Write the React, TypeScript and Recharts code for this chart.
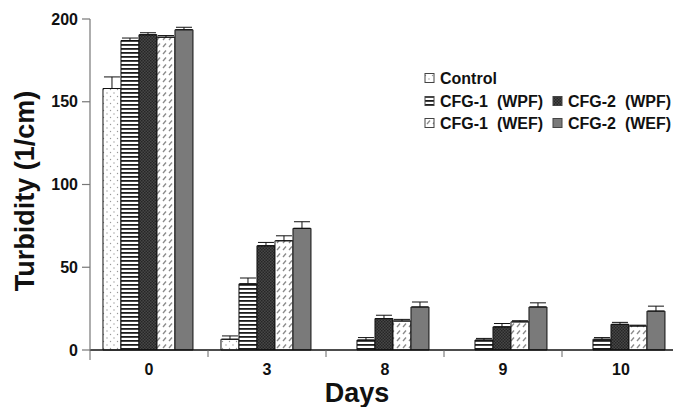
import React from 'react';
import { BarChart, Bar, XAxis, YAxis, ErrorBar } from 'recharts';

// ---------- data ----------
const days = ['0', '3', '8', '9', '10'];
const control = [158, 6.5, 0, 0, 0];
const controlErr = [7, 2, 0, 0, 0];
const cfg1Wpf = [187, 40, 6, 6, 6.5];
const cfg1WpfErr = [1.5, 3.5, 1.5, 1, 1];
const cfg2Wpf = [190.5, 63, 19, 14, 15.5];
const cfg2WpfErr = [1.2, 2, 2, 2, 1.2];
const cfg1Wef = [189, 66, 17.5, 17, 14.5];
const cfg1WefErr = [1, 3, 1, 0.7, 0.5];
const cfg2Wef = [193.5, 73.5, 26, 26, 23.5];
const cfg2WefErr = [1.5, 4, 3, 2.5, 3];
const seriesNames = ['Control', 'CFG-1  (WPF)', 'CFG-2  (WPF)', 'CFG-1  (WEF)', 'CFG-2  (WEF)'];
const yTicks = [0, 50, 100, 150, 200];

// ---------- layout ----------
const W = 700;
const H = 407;
const MARGIN = { top: 19, right: 20, bottom: 0, left: 0 };
const YAXIS_W = 90;
const XAXIS_H = 57;
const FONT = '"Liberation Sans", Arial, Helvetica, sans-serif';
const BAND = (W - MARGIN.left - MARGIN.right - YAXIS_W) / days.length;

const data = days.map((d, i) => ({
  day: d,
  s0: control[i], e0: [0, controlErr[i]],
  s1: cfg1Wpf[i], e1: [0, cfg1WpfErr[i]],
  s2: cfg2Wpf[i], e2: [0, cfg2WpfErr[i]],
  s3: cfg1Wef[i], e3: [0, cfg1WefErr[i]],
  s4: cfg2Wef[i], e4: [0, cfg2WefErr[i]],
}));

const fills = ['url(#pDots)', 'url(#pStripes)', 'url(#pDark)', 'url(#pSlash)', '#7a7a7a'];

// legend placement (layout only)
const legendPos = [
  { left: 425, top: 78 },
  { left: 425, top: 101 },
  { left: 553, top: 101 },
  { left: 425, top: 123 },
  { left: 553, top: 123 },
];

function XTick(props: any) {
  const { x, y, payload, index } = props;
  const bx = x - BAND / 2;
  return (
    <g>
      <line x1={bx} y1={y} x2={bx} y2={y + (index === 0 ? 10 : 7)} stroke="#666" strokeWidth={1} />
      <text x={x} y={y + 25} textAnchor="middle" fontFamily={FONT} fontWeight={700} fontSize={16} fill="#111">
        {payload.value}
      </text>
    </g>
  );
}

function Patterns() {
  return (
    <defs>
      <pattern id="pDots" width="7" height="7" patternUnits="userSpaceOnUse">
        <rect width="7" height="7" fill="#ffffff" />
        <circle cx="2" cy="2" r="0.7" fill="#9a9a9a" />
        <circle cx="5.5" cy="5.5" r="0.7" fill="#9a9a9a" />
      </pattern>
      <pattern id="pStripes" width="4" height="4" patternUnits="userSpaceOnUse">
        <rect width="4" height="4" fill="#ffffff" />
        <rect width="4" height="1.8" fill="#1c1c1c" />
      </pattern>
      <pattern id="pDark" width="3" height="3" patternUnits="userSpaceOnUse">
        <rect width="3" height="3" fill="#474747" />
        <rect width="1.5" height="1.5" fill="#262626" />
        <rect x="1.5" y="1.5" width="1.5" height="1.5" fill="#262626" />
      </pattern>
      <pattern id="pSlash" width="6" height="7" patternUnits="userSpaceOnUse">
        <rect width="6" height="7" fill="#ffffff" />
        <line x1="1" y1="5" x2="4" y2="1.5" stroke="#8a8a8a" strokeWidth="1.3" />
      </pattern>
    </defs>
  );
}

export default function App() {
  return (
    <div style={{ position: 'absolute', left: 0, top: 0, width: 673, height: 407, overflow: 'hidden', background: '#fff' }}>
      <BarChart
        width={W}
        height={H}
        data={data}
        margin={MARGIN}
        barCategoryGap="11%"
        barGap={0}
      >
        <Patterns />
        <XAxis
          dataKey="day"
          height={XAXIS_H}
          tickLine={false}
          tickSize={0}
          tickMargin={0}
          axisLine={{ stroke: '#111', strokeWidth: 1.6 }}
          tick={<XTick />}
          interval={0}
        />
        <YAxis
          width={YAXIS_W}
          domain={[0, 200]}
          ticks={yTicks}
          tickSize={8}
          tickMargin={4}
          axisLine={{ stroke: '#777', strokeWidth: 1.2 }}
          tickLine={{ stroke: '#777', strokeWidth: 1.2 }}
          tick={{ fontFamily: FONT, fontWeight: 700, fontSize: 16, fill: '#111' }}
        />
        {fills.map((f, i) => (
          <Bar key={i} dataKey={`s${i}`} name={seriesNames[i]} fill={f} stroke="#111" strokeWidth={1} isAnimationActive={false}>
            <ErrorBar dataKey={`e${i}`} width={8} stroke="#111" strokeWidth={1} direction="y" />
          </Bar>
        ))}
      </BarChart>
      <svg width={673} height={407} style={{ position: 'absolute', left: 0, top: 0, pointerEvents: 'none' }}>
        <text
          x={25}
          y={191}
          transform="rotate(-90 25 191)"
          textAnchor="middle"
          dominantBaseline="central"
          fontFamily={FONT}
          fontWeight={700}
          fontSize={27}
          fill="#111"
        >
          Turbidity (1/cm)
        </text>
        <text x={357} y={402} textAnchor="middle" fontFamily={FONT} fontWeight={700} fontSize={27} fill="#111">
          Days
        </text>
        {seriesNames.map((n, i) => (
          <g key={n}>
            <rect x={legendPos[i].left} y={legendPos[i].top - 4.5} width={9} height={9} fill={fills[i]} stroke="#444" strokeWidth={1} />
            <text
              x={legendPos[i].left + 15}
              y={legendPos[i].top}
              dominantBaseline="central"
              fontFamily={FONT}
              fontWeight={700}
              fontSize={16}
              fill="#111"
              style={{ whiteSpace: 'pre' }}
              xmlSpace="preserve"
            >
              {n}
            </text>
          </g>
        ))}
      </svg>
    </div>
  );
}
